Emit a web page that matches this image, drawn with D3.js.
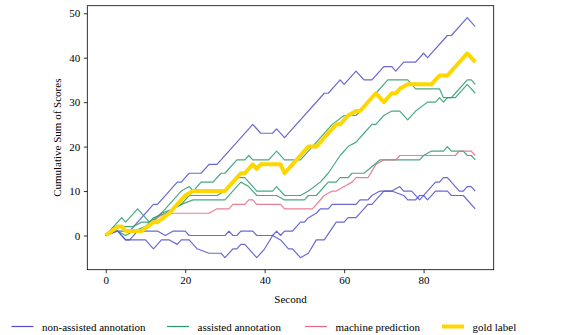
<!DOCTYPE html>
<html>
<head>
<meta charset="utf-8">
<script src="https://d3js.org/d3.v7.min.js"></script>
<style>
    html, body {
        margin: 0;
        padding: 0;
        overflow: hidden;
        background: #fff;
    }
    text {
        font-family: "Liberation Serif", "DejaVu Serif", serif;
        fill: #000;
    }
    .axis path, .axis line {
        stroke: #000;
        stroke-width: 0.8px;
    }
</style>
</head>
<body>
<svg id="chart" width="574" height="335"></svg>
<script>
// [second, cumulative score] break points
var nonAssisted1 = [[0,0],[2,1],[6,1],[7,2],[12,7],[13,7],[17,11],[18,12],[19,12],[20,13],[21,14],[24,14],[26,16],[28,16],[36,24],[37,25],[39,23],[42,23],[43,24],[45,22],[55,32],[56,32],[59,35],[60,34],[63,37],[65,35],[67,35],[70,38],[72,38],[73,37],[74,38],[75,39],[78,39],[80,41],[81,40],[86,45],[87,45],[91,49],[93,47]];
var nonAssisted2 = [[0,0],[3,1],[5,-1],[6,-1],[8,1],[13,1],[15,0],[17,1],[20,1],[21,0],[30,0],[31,1],[32,0],[33,0],[34,1],[37,1],[38,0],[42,0],[43,1],[44,0],[45,1],[47,1],[49,3],[50,3],[51,4],[53,5],[54,6],[56,6],[57,7],[63,7],[64,8],[66,8],[67,9],[69,10],[72,10],[75,9],[76,8],[78,8],[79,9],[80,9],[81,8],[83,10],[86,10],[87,9],[90,9],[93,6]];
var nonAssisted3 = [[0,0],[3,1],[5,-1],[10,-1],[12,-3],[14,-1],[16,-1],[18,-2],[19,-1],[21,-1],[23,-3],[26,-4],[29,-4],[30,-5],[32,-3],[33,-3],[34,-2],[35,-2],[38,-5],[40,-3],[42,0],[44,-1],[46,-3],[47,-3],[49,-5],[51,-4],[53,-1],[55,-1],[58,3],[60,3],[61,4],[63,4],[66,7],[67,7],[70,10],[72,10],[74,11],[75,10],[77,10],[79,8],[83,12],[84,12],[85,13],[86,13],[89,10],[90,10],[91,11],[92,11],[93,10]];

var assisted1 = [[0,0],[4,4],[5,3],[8,6],[11,3],[13,4],[19,10],[21,11],[22,10],[24,12],[27,12],[29,14],[30,14],[33,17],[35,17],[36,18],[37,17],[41,17],[43,19],[45,17],[49,17],[51,19],[56,24],[57,25],[60,27],[63,27],[67,31],[68,32],[71,35],[76,35],[78,33],[84,33],[85,31],[87,31],[88,32],[91,35],[92,35],[93,34]];
var assisted2 = [[0,0],[2,2],[3,2],[7,2],[9,3],[11,3],[14,5],[17,6],[19,7],[21,9],[28,9],[30,10],[33,13],[35,13],[38,10],[42,10],[43,11],[45,9],[49,9],[51,10],[54,12],[56,14],[59,18],[61,20],[63,21],[65,23],[67,25],[68,25],[70,27],[72,28],[74,28],[76,26],[78,28],[81,30],[83,30],[84,31],[85,30],[86,31],[88,31],[91,34],[93,32]];
var assisted3 = [[0,0],[1,1],[3,1],[5,0],[7,1],[10,2],[12,4],[15,5],[19,7],[22,8],[30,8],[34,12],[36,11],[38,9],[43,9],[45,8],[50,8],[51,9],[53,9],[56,12],[58,12],[59,13],[61,13],[62,14],[65,14],[69,17],[79,17],[80,18],[82,19],[85,19],[86,20],[87,19],[90,19],[91,18],[92,18],[93,17]];

var machine = [[0,0],[3,2],[4,2],[5,1],[9,1],[12,3],[13,4],[15,5],[26,5],[28,6],[31,6],[32,7],[35,7],[36,8],[37,8],[38,7],[44,7],[45,6],[52,6],[55,9],[57,10],[58,10],[60,11],[62,12],[63,13],[66,13],[68,16],[70,17],[73,17],[74,18],[88,18],[89,19],[92,19],[93,18]];

var gold = [[0,0],[3,2],[4,2],[5,1],[9,1],[12,3],[13,3],[16,5],[19,8],[20,9],[22,10],[30,10],[32,12],[34,14],[35,14],[37,16],[38,15],[39,16],[44,16],[45,14],[50,19],[51,20],[53,20],[55,22],[57,24],[58,25],[59,25],[61,27],[63,28],[64,28],[68,32],[70,30],[72,32],[73,32],[74,33],[76,34],[82,34],[83,35],[84,36],[86,36],[91,41],[93,39]];

var xTicks = [0, 20, 40, 60, 80];
var yTicks = [0, 10, 20, 30, 40, 50];

var legendNames = ["non-assisted annotation", "assisted annotation", "machine prediction", "gold label"];
var legendColors = ["#5050c8", "#2a9a6c", "#e46a82", "#ffd700"];

var series = [
    {data: nonAssisted1, c: 0}, {data: nonAssisted2, c: 0}, {data: nonAssisted3, c: 0},
    {data: assisted1, c: 1}, {data: assisted2, c: 1}, {data: assisted3, c: 1},
    {data: machine, c: 2},
    {data: gold, c: 3}
];

var svg = d3.select("#chart"),
    plotLeft = 87.3, plotRight = 493.7, plotTop = 5.7, plotBottom = 269.7;

var x = d3.scaleLinear().domain([-4.65, 97.65]).range([plotLeft, plotRight]);
var y = d3.scaleLinear().domain([-7.7, 51.7]).range([plotBottom, plotTop]);

var line = d3.line()
    .x(function(d) { return x(d[0]); })
    .y(function(d) { return y(d[1]); });

var g = svg.append("g");

g.selectAll("path.series")
    .data(series)
    .enter().append("path")
    .attr("class", "series")
    .attr("d", function(d) { return line(d.data); })
    .attr("fill", "none")
    .attr("stroke", function(d) { return legendColors[d.c]; })
    .attr("stroke-width", function(d) { return d.c === 3 ? 4 : 1.2; })
    .attr("stroke-opacity", function(d) { return d.c === 3 ? 1 : 0.85; })
    .attr("stroke-linejoin", "round");

// frame
svg.append("rect")
    .attr("x", plotLeft).attr("y", plotTop)
    .attr("width", plotRight - plotLeft).attr("height", plotBottom - plotTop)
    .attr("fill", "none")
    .attr("stroke", "#000")
    .attr("stroke-width", 0.8);

var xAxis = svg.append("g")
    .attr("class", "axis")
    .attr("transform", "translate(0," + plotBottom + ")")
    .call(d3.axisBottom(x).tickValues(xTicks).tickSize(3.5).tickPadding(3.5));
xAxis.select(".domain").remove();

var yAxis = svg.append("g")
    .attr("class", "axis")
    .attr("transform", "translate(" + plotLeft + ",0)")
    .call(d3.axisLeft(y).tickValues(yTicks).tickSize(3.5).tickPadding(3.5));
yAxis.select(".domain").remove();

svg.selectAll(".axis text")
    .style("font-family", "'Liberation Serif', serif")
    .style("font-size", "11px");

svg.append("text")
    .attr("x", (plotLeft + plotRight) / 2)
    .attr("y", 299)
    .attr("dy", "0.35em")
    .attr("text-anchor", "middle")
    .style("font-size", "11px")
    .text("Second");

svg.append("text")
    .attr("transform", "translate(57," + ((plotTop + plotBottom) / 2) + ") rotate(-90)")
    .attr("dy", "0.35em")
    .attr("text-anchor", "middle")
    .style("font-size", "11px")
    .text("Cumulative Sum of Scores");

// legend
var legendX = [11.5, 167, 305, 442];
var legend = svg.append("g");
legendNames.forEach(function(name, i) {
    legend.append("line")
        .attr("x1", legendX[i]).attr("x2", legendX[i] + 22)
        .attr("y1", 326.5).attr("y2", 326.5)
        .attr("stroke", legendColors[i])
        .attr("stroke-width", i === 3 ? 4 : 1.2);
    legend.append("text")
        .attr("x", legendX[i] + 30.5)
        .attr("y", 327.5)
        .attr("dy", "0.35em")
        .style("font-size", "11px")
        .text(name);
});
</script>
</body>
</html>
